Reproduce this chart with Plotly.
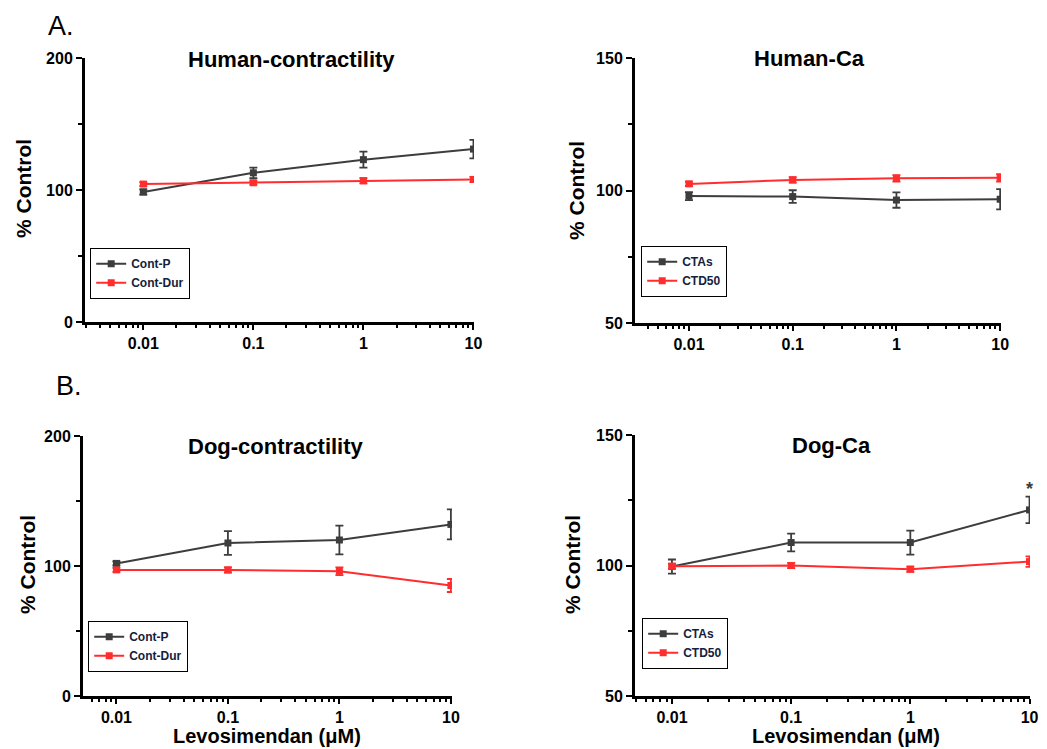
import plotly.graph_objects as go

# ---------------- data ----------------
conc = [0.01, 0.1, 1, 10]
tick_labels = ["0.01", "0.1", "1", "10"]

# Human contractility
hc_contp = [98.5, 113, 123, 131]
hc_contp_err = [2, 4, 6, 7]
hc_contdur = [104.5, 105.5, 107, 108]
hc_contdur_err = [1.5, 1.5, 2, 2]

# Human Ca
hca_ctas = [97.9, 97.7, 96.4, 96.7]
hca_ctas_err = [1.5, 2.4, 2.9, 3.8]
hca_ctd50 = [102.5, 104.0, 104.6, 104.8]
hca_ctd50_err = [0.8, 1.0, 1.2, 1.4]

# Dog contractility
dc_contp = [102, 117.7, 120, 132]
dc_contp_err = [1.5, 9.2, 11, 11.5]
dc_contdur = [97, 97, 96, 85]
dc_contdur_err = [1.5, 2, 3, 5]

# Dog Ca
dca_ctas = [99.6, 108.8, 108.8, 121.3]
dca_ctas_err = [2.7, 3.4, 4.6, 5.1]
dca_ctd50 = [99.7, 100.0, 98.6, 101.5]
dca_ctd50_err = [1.0, 1.0, 1.0, 2.0]

titles = ["Human-contractility", "Human-Ca", "Dog-contractility", "Dog-Ca"]
x_title = "Levosimendan (\u03bcM)"
y_title = "% Control"

W, H = 1047, 749
OFF = 8  # page body margin offset
GRAY = "#3d3d3d"
RED = "#ff2d2d"
FONT = "Arial, Liberation Sans, sans-serif"

def px_x(v):
    return (v - OFF) / W

def px_y(v):
    return 1 - (v - OFF) / H

fig = go.Figure()

panels = [
    ("", hc_contp, hc_contp_err, "Cont-P", hc_contdur, hc_contdur_err, "Cont-Dur",
     (85, 474), (58, 322), (-2.53, 1.005), (0, 200), 100, 50, (90, 248)),
    ("2", hca_ctas, hca_ctas_err, "CTAs", hca_ctd50, hca_ctd50_err, "CTD50",
     (635, 1001), (58, 323), (-2.52, 1.008), (50, 150), 50, 25, (641, 246)),
    ("3", dc_contp, dc_contp_err, "Cont-P", dc_contdur, dc_contdur_err, "Cont-Dur",
     (83, 452), (436, 696), (-2.30, 1.01), (0, 200), 100, 50, (88, 621)),
    ("4", dca_ctas, dca_ctas_err, "CTAs", dca_ctd50, dca_ctd50_err, "CTD50",
     (635, 1030), (435, 696), (-2.31, 1.004), (50, 150), 50, 25, (642, 618)),
]

layout_updates = {}
for i, (sfx, s1, e1, n1, s2, e2, n2, xd, yd, xr, yr, dt, mdt, lg) in enumerate(panels):
    xa = "x" + sfx
    ya = "y" + sfx
    leg = "legend" + sfx
    for ser, err, name, col in [(s1, e1, n1, GRAY), (s2, e2, n2, RED)]:
        fig.add_trace(go.Scatter(
            x=conc, y=ser, name=name, mode="lines+markers",
            xaxis=xa, yaxis=ya, legend=leg,
            line=dict(color=col, width=2),
            marker=dict(color=col, size=7, symbol="square"),
            error_y=dict(type="data", array=err, visible=True, color=col,
                         thickness=1.8, width=4),
        ))
    layout_updates["xaxis" + sfx] = dict(
        type="log", range=list(xr), domain=[px_x(xd[0]), px_x(xd[1])],
        anchor=ya, showline=True, linecolor="black", linewidth=2.5,
        ticks="outside", ticklen=5, tickwidth=2, tickcolor="black",
        tickmode="array", tickvals=conc, ticktext=tick_labels,
        minor=dict(ticks="outside", ticklen=3, tickwidth=1.5, tickcolor="black",
                   dtick="D1", showgrid=False),
        showgrid=False, zeroline=False, automargin=False,
        tickfont=dict(family=FONT, size=16, color="black", weight="bold"),
    )
    layout_updates["yaxis" + sfx] = dict(
        range=list(yr), domain=[px_y(yd[1]), px_y(yd[0])],
        anchor=xa, showline=True, linecolor="black", linewidth=3,
        ticks="outside", ticklen=6, tickwidth=2, tickcolor="black",
        dtick=dt, tick0=yr[0],
        minor=dict(ticks="outside", ticklen=4, tickwidth=1.5, tickcolor="black",
                   dtick=mdt, showgrid=False),
        showgrid=False, zeroline=False, automargin=False,
        tickfont=dict(family=FONT, size=16, color="black", weight="bold"),
    )
    layout_updates[leg] = dict(
        x=px_x(lg[0]), y=px_y(lg[1]), xanchor="left", yanchor="top",
        bordercolor="black", borderwidth=1.2, bgcolor="white",
        font=dict(family=FONT, size=12, color="#14213d", weight="bold"),
        tracegroupgap=0, itemwidth=30,
    )

annotations = []
title_pos = [(291, 59), (809, 58), (276, 446), (831, 445)]
for t, (cx, cy) in zip(titles, title_pos):
    annotations.append(dict(text=t, x=px_x(cx), y=px_y(cy), xref="paper", yref="paper",
                            xanchor="center", yanchor="middle", showarrow=False,
                            font=dict(family=FONT, size=22, color="black", weight="bold")))
ytitle_pos = [(23, 189), (576, 191), (27, 565), (572, 565)]
for (cx, cy) in ytitle_pos:
    annotations.append(dict(text=y_title, x=px_x(cx), y=px_y(cy), xref="paper", yref="paper",
                            xanchor="center", yanchor="middle", showarrow=False, textangle=-90,
                            font=dict(family=FONT, size=21, color="black", weight="bold")))
for (cx, cy) in [(267, 736), (846, 736)]:
    annotations.append(dict(text=x_title, x=px_x(cx), y=px_y(cy), xref="paper", yref="paper",
                            xanchor="center", yanchor="middle", showarrow=False,
                            font=dict(family=FONT, size=20, color="black", weight="bold")))
for lab, (lx, ly) in [("A.", (46, 26)), ("B.", (54, 386))]:
    annotations.append(dict(text=lab, x=px_x(lx), y=px_y(ly), xref="paper", yref="paper",
                            xanchor="left", yanchor="middle", showarrow=False,
                            font=dict(family=FONT, size=27, color="black")))
annotations.append(dict(text="*", x=1, y=129.5, xref="x4", yref="y4",
                        xanchor="center", yanchor="middle", showarrow=False,
                        font=dict(family=FONT, size=18, color=GRAY, weight="bold")))

fig.update_layout(
    width=W, height=H, margin=dict(l=0, r=0, t=0, b=0, pad=0, autoexpand=False),
    paper_bgcolor="white", plot_bgcolor="white",
    showlegend=True, annotations=annotations,
    **layout_updates,
)

fig.write_html("out.html")
